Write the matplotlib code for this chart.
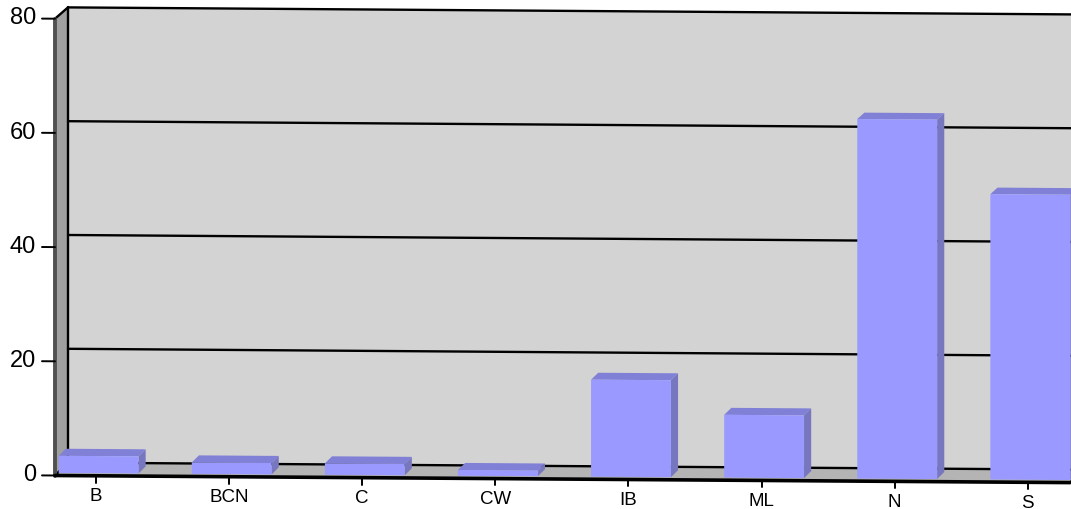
import matplotlib
matplotlib.use('Agg')
import matplotlib.pyplot as plt
from matplotlib.transforms import Affine2D

categories = ['B', 'BCN', 'C', 'CW', 'IB', 'ML', 'N', 'S']
values = [3, 2, 2, 1, 17, 11, 63, 50]
y_ticks = [0, 20, 40, 60, 80]

# pixel layout of the fake 3d box
PX_CAT = 133.1
PX_VAL = 5.71
X0 = 96
Y0 = 476.5
SLOPE = 0.007
DEPTH_C = 13 / PX_CAT
DEPTH_V = 13 / PX_VAL
SHRINK = 0.0035  # back wall is a touch shorter than the front
C_LEFT = (55 - X0) / PX_CAT
C_RIGHT = (1070 - X0) / PX_CAT
Y_TOP = 80
BAR_W = 0.6
BAR_D0, BAR_D1 = 0.2, 0.75

fig = plt.figure(figsize=(10.71, 5.10), dpi=100)
ax = fig.add_axes([0, 0, 1, 1])
ax.set_xlim(0, 1071)
ax.set_ylim(510, 0)
ax.axis('off')

# category/value -> pixels, slightly tilted to the right
tr = Affine2D.from_values(PX_CAT, PX_CAT * SLOPE, 0, -PX_VAL, X0,
                          Y0 + (X0 - 55) * SLOPE) + ax.transData


def pt(c, v, d=0):
    return (c + d * DEPTH_C, v * (1 - d * SHRINK) + d * DEPTH_V)


def face(points, color, z):
    ax.fill([p[0] for p in points], [p[1] for p in points], color=color, lw=0,
            transform=tr, zorder=z)


def line(p0, p1, color='black', lw=1.7, z=3):
    ax.plot([p0[0], p1[0]], [p0[1], p1[1]], color=color, lw=lw, transform=tr,
            zorder=z, solid_capstyle='round')


# walls
face([pt(C_LEFT, 0, 1), pt(C_RIGHT, 0, 1), pt(C_RIGHT, Y_TOP, 1), pt(C_LEFT, Y_TOP, 1)], '#D3D3D3', 1)
face([pt(C_LEFT, 0), pt(C_LEFT, 0, 1), pt(C_LEFT, Y_TOP, 1), pt(C_LEFT, Y_TOP)], '#A0A0A0', 1)
face([pt(C_LEFT, 0), pt(C_RIGHT, 0), pt(C_RIGHT, 0, 1), pt(C_LEFT, 0, 1)], '#B4B4B4', 1)

# gridlines on the back wall
for v in y_ticks:
    line(pt(C_LEFT, v, 1), pt(C_RIGHT, v, 1))

# box edges
line(pt(C_LEFT, 0, 1), pt(C_LEFT, Y_TOP, 1))
line(pt(C_LEFT, Y_TOP), pt(C_LEFT, Y_TOP, 1))
line(pt(C_LEFT, 0), pt(C_LEFT, 0, 1))
line(pt(C_RIGHT, 0), pt(C_RIGHT, 0, 1))
line(pt(C_LEFT, 0), pt(C_LEFT, Y_TOP), color='#505050', lw=2.8)
line(pt(C_LEFT, 0), pt(C_RIGHT, 0), lw=2.6, z=6)

# bars
for i, val in enumerate(values):
    l, r = i - BAR_W / 2, i + BAR_W / 2
    face([pt(l, val, BAR_D0), pt(r, val, BAR_D0), pt(r, val, BAR_D1), pt(l, val, BAR_D1)], '#8080D6', 4)
    face([pt(r, 0, BAR_D0), pt(r, 0, BAR_D1), pt(r, val, BAR_D1), pt(r, val, BAR_D0)], '#7777BF', 4)
    face([pt(l, 0, BAR_D0), pt(r, 0, BAR_D0), pt(r, val, BAR_D0), pt(l, val, BAR_D0)], '#9999FF', 5)

# y ticks and labels
for v in y_ticks:
    line(pt(C_LEFT - 13 / PX_CAT, v), pt(C_LEFT, v), lw=1.4)
    ax.text(C_LEFT - 19 / PX_CAT, v + 0.2, str(v), transform=tr, ha='right', va='center',
            family='Liberation Sans', fontsize=17, color='black')

# x ticks and labels
for i, name in enumerate(categories):
    line(pt(i, 0), pt(i, -1.2), lw=1.4)
    ax.text(i, -3.5, name, transform=tr, ha='center', va='center',
            family='Liberation Sans', fontsize=13.5, color='black')

fig.savefig('out.png', dpi=100)
